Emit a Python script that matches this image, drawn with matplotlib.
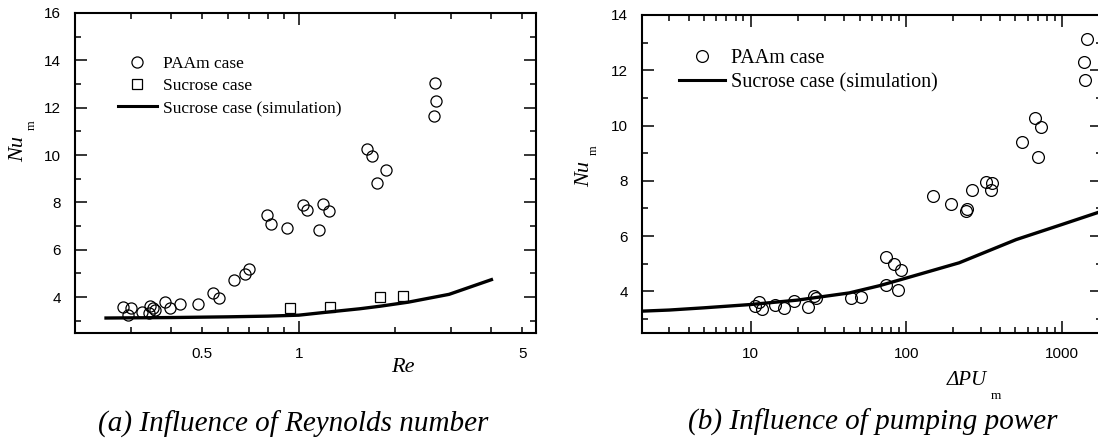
import numpy as np
import matplotlib
matplotlib.use("Agg")
import matplotlib.pyplot as plt
from matplotlib.ticker import FixedLocator, FuncFormatter, LogLocator, NullFormatter
from matplotlib.lines import Line2D

# (a) Nu_m vs Re
re_paam = [0.282, 0.300, 0.293, 0.323, 0.342, 0.351, 0.355, 0.340, 0.383, 0.397, 0.427,
           0.485, 0.540, 0.563, 0.630, 0.680, 0.698, 0.798, 0.818, 0.922, 1.03, 1.065,
           1.19, 1.24, 1.16, 1.635, 1.70, 1.87, 1.757, 2.66, 2.68, 2.64]
nu_paam_a = [3.58, 3.56, 3.23, 3.37, 3.61, 3.56, 3.47, 3.33, 3.79, 3.54, 3.70,
             3.73, 4.17, 3.98, 4.74, 4.96, 5.18, 7.46, 7.11, 6.92, 7.88, 7.67,
             7.92, 7.64, 6.85, 10.24, 9.95, 9.36, 8.82, 13.05, 12.29, 11.64]
re_sucrose = [0.937, 1.256, 1.80, 2.11]
nu_sucrose = [3.56, 3.58, 4.00, 4.03]
re_sim = [0.25, 0.4, 0.6, 0.8, 1.0, 1.25, 1.55, 1.8, 2.2, 2.95, 4.0]
nu_sim_a = [3.12, 3.14, 3.17, 3.20, 3.24, 3.38, 3.51, 3.62, 3.79, 4.12, 4.74]

# (b) Nu_m vs pumping power
pu_paam = [10.6, 11.4, 11.9, 14.3, 16.5, 19.1, 23.3, 25.7, 26.4, 44.3, 51.3,
           74.2, 82.9, 92.3, 74.2, 88, 147.5, 192.9, 240, 246, 263, 322, 350, 355,
           548, 670, 735, 700, 1440, 1376, 1400]
nu_paam_b = [3.48, 3.60, 3.36, 3.52, 3.40, 3.64, 3.44, 3.82, 3.77, 3.74, 3.78,
             5.23, 5.00, 4.76, 4.21, 4.04, 7.46, 7.17, 6.89, 6.98, 7.65, 7.94, 7.68, 7.92,
             9.39, 10.27, 9.96, 8.86, 13.12, 12.31, 11.63]
pu_sim = [2, 3, 5, 10, 20, 43, 67, 100, 218, 506, 1000, 1800]
nu_sim_b = [3.28, 3.32, 3.40, 3.52, 3.68, 3.94, 4.20, 4.48, 5.03, 5.87, 6.42, 6.90]

W, H = 1098, 448
fig = plt.figure(figsize=(W / 100, H / 100), dpi=100)
serif = 'Liberation Serif'
sans = 'Liberation Sans'


def px(x, y):
    return x / W, 1 - y / H


def style_axes(ax):
    for s in ax.spines.values():
        s.set_linewidth(1.5)
    ax.tick_params(which='both', direction='in', top=True, right=True, width=1.1,
                   labelsize=11, pad=10)
    ax.tick_params(which='major', length=8.5)
    ax.tick_params(which='minor', length=4.5)
    for lab in ax.get_xticklabels() + ax.get_yticklabels():
        lab.set_fontfamily(sans)


# ---- panel (a)
ax1 = fig.add_axes([75 / W, 1 - 332.7 / H, 460.7 / W, 319.7 / H])
ax1.plot(re_sim, nu_sim_a, color='black', lw=2.4, zorder=2)
ax1.plot(re_paam, nu_paam_a, 'o', ms=8, mfc='none', mec='black', mew=0.9, zorder=3)
ax1.plot(re_sucrose, nu_sucrose, 's', ms=7, mfc='none', mec='black', mew=0.9, zorder=3)
ax1.set_xscale('log')
ax1.set_xlim(0.2, 5.5)
ax1.set_ylim(2.5, 16)
ax1.xaxis.set_major_locator(FixedLocator([1]))
ax1.xaxis.set_minor_locator(FixedLocator([0.3, 0.4, 0.5, 0.6, 0.7, 0.8, 0.9, 2, 3, 4, 5]))
ax1.xaxis.set_major_formatter(FuncFormatter(lambda v, p: '%g' % v))
ax1.xaxis.set_minor_formatter(FuncFormatter(lambda v, p: '%g' % v if v in (0.5, 5) else ''))
ax1.yaxis.set_major_locator(FixedLocator([4, 6, 8, 10, 12, 14, 16]))
ax1.yaxis.set_minor_locator(FixedLocator([3, 5, 7, 9, 11, 13, 15]))
style_axes(ax1)
for lab in ax1.get_xticklabels(minor=True):
    lab.set_fontfamily(sans)

h1 = [Line2D([], [], ls='none', marker='o', ms=8, mfc='none', mec='black', mew=0.9),
      Line2D([], [], ls='none', marker='s', ms=7, mfc='none', mec='black', mew=0.9),
      Line2D([], [], color='black', lw=2.2)]
ax1.legend(h1, ['PAAm case', 'Sucrose case', 'Sucrose case (simulation)'],
           loc='upper left', bbox_to_anchor=px(118, 56), bbox_transform=fig.transFigure,
           frameon=False, borderpad=0, borderaxespad=0, handlelength=2.23,
           handletextpad=0.35, labelspacing=0.33, prop={'family': serif, 'size': 12.5})

# ---- panel (b)
ax2 = fig.add_axes([641.7 / W, 1 - 332.7 / H, 460.3 / W, 317.7 / H])
ax2.plot(pu_sim, nu_sim_b, color='black', lw=2.4, zorder=2)
ax2.plot(pu_paam, nu_paam_b, 'o', ms=8.5, mfc='none', mec='black', mew=0.9, zorder=3)
ax2.set_xscale('log')
ax2.set_xlim(2, 1800)
ax2.set_ylim(2.5, 14)
ax2.xaxis.set_major_locator(FixedLocator([10, 100, 1000]))
ax2.xaxis.set_minor_locator(LogLocator(base=10, subs=np.arange(2, 10), numticks=20))
ax2.xaxis.set_major_formatter(FuncFormatter(lambda v, p: '%g' % v))
ax2.xaxis.set_minor_formatter(NullFormatter())
ax2.yaxis.set_major_locator(FixedLocator([4, 6, 8, 10, 12, 14]))
ax2.yaxis.set_minor_locator(FixedLocator([3, 5, 7, 9, 11, 13]))
style_axes(ax2)

h2 = [Line2D([], [], ls='none', marker='o', ms=8.5, mfc='none', mec='black', mew=0.9),
      Line2D([], [], color='black', lw=2.2)]
ax2.legend(h2, ['PAAm case', 'Sucrose case (simulation)'],
           loc='upper left', bbox_to_anchor=px(679, 49), bbox_transform=fig.transFigure,
           frameon=False, borderpad=0, borderaxespad=0, handlelength=2.28,
           handletextpad=0.3, labelspacing=0.25, prop={'family': serif, 'size': 14.5})

# ---- axis labels and captions
it = dict(family=serif, style='italic', ha='center', va='center')
fig.text(*px(19, 149), 'Nu', rotation=90, fontsize=16, **it)
fig.text(*px(32, 125), 'm', rotation=90, fontsize=9, family=serif, ha='center', va='center')
fig.text(*px(584.5, 174), 'Nu', rotation=90, fontsize=16, **it)
fig.text(*px(594, 150), 'm', rotation=90, fontsize=9, family=serif, ha='center', va='center')
fig.text(*px(403, 367), 'Re', fontsize=16, **it)
fig.text(*px(967, 380), '\u0394PU', fontsize=15, **it)
fig.text(*px(996, 396), 'm', fontsize=9.5, family=serif, ha='center', va='center')

fig.text(*px(98, 424), '(a) Influence of Reynolds number', fontsize=21, family=serif,
         style='italic', ha='left', va='center')
fig.text(*px(688, 422), '(b) Influence of pumping power', fontsize=21, family=serif,
         style='italic', ha='left', va='center')

fig.savefig('out.png', dpi=100)
